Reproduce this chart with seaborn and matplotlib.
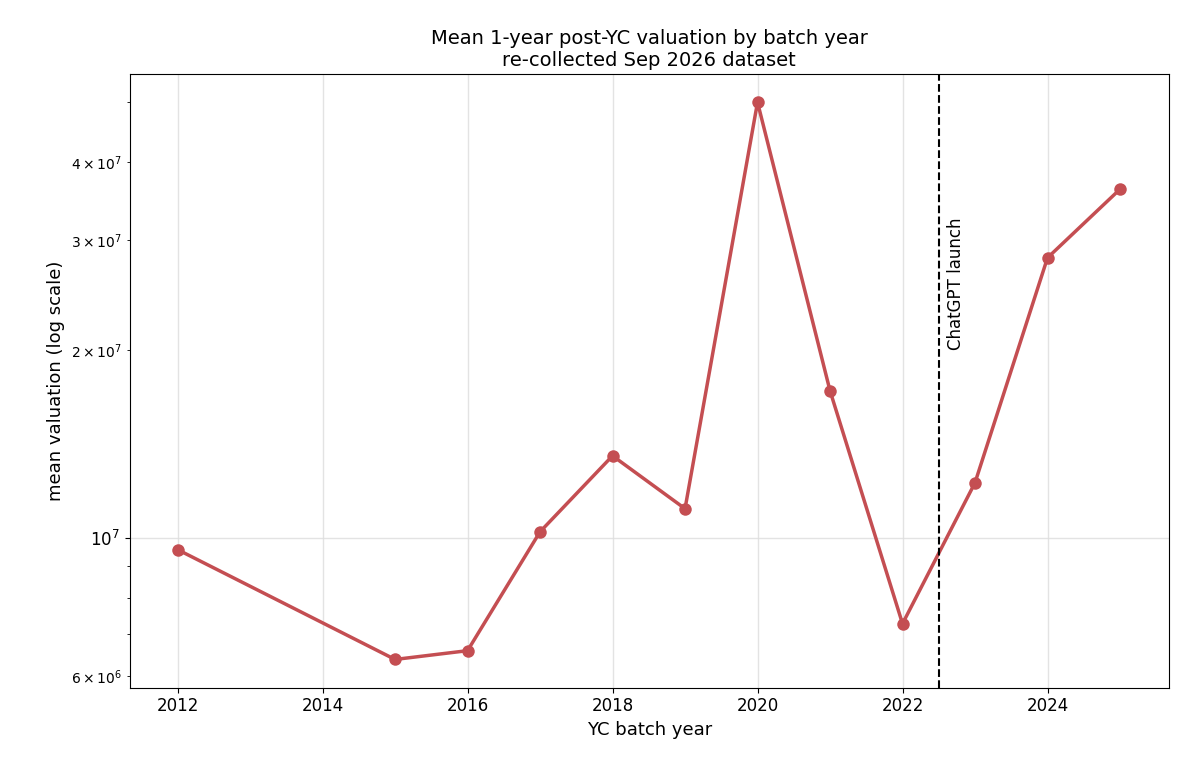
import matplotlib
matplotlib.use('Agg')
import matplotlib.pyplot as plt
import numpy as np
import pandas as pd
import seaborn as sns

years = [2012, 2015, 2016, 2017, 2018, 2019, 2020, 2021, 2022, 2023, 2024, 2025]
mean_valuation = [9.57e6, 6.38e6, 6.59e6, 1.022e7, 1.353e7, 1.113e7, 4.99e7,
                  1.72e7, 7.28e6, 1.225e7, 2.81e7, 3.62e7]
chatgpt_year = 2022.5

df = pd.DataFrame({'year': years, 'valuation': mean_valuation})

fig, ax = plt.subplots(figsize=(11.9, 7.7), dpi=100)
sns.lineplot(data=df, x='year', y='valuation', ax=ax, color='#c44e52',
             linewidth=2.5, marker='o', markersize=9, markeredgewidth=0)
ax.set_yscale('log')
ax.set_xlim(2011.34, 2025.67)
ax.set_ylim(5.75e6, 5.54e7)
ax.grid(True, which='major', color='#dddddd', linewidth=1, alpha=0.8)
ax.axvline(chatgpt_year, color='black', linestyle='--', linewidth=1.5)
ax.text(chatgpt_year + 0.12, 2.0e7, 'ChatGPT launch', rotation=90,
        fontsize=12, va='bottom', ha='left')
ax.set_title('Mean 1-year post-YC valuation by batch year\nre-collected Sep 2026 dataset',
             fontsize=14)
ax.set_xlabel('YC batch year', fontsize=13)
ax.set_ylabel('mean valuation (log scale)', fontsize=13)
ax.tick_params(labelsize=12)
plt.subplots_adjust(left=0.109, right=0.982, top=0.904, bottom=0.107)
plt.savefig('out.png')
